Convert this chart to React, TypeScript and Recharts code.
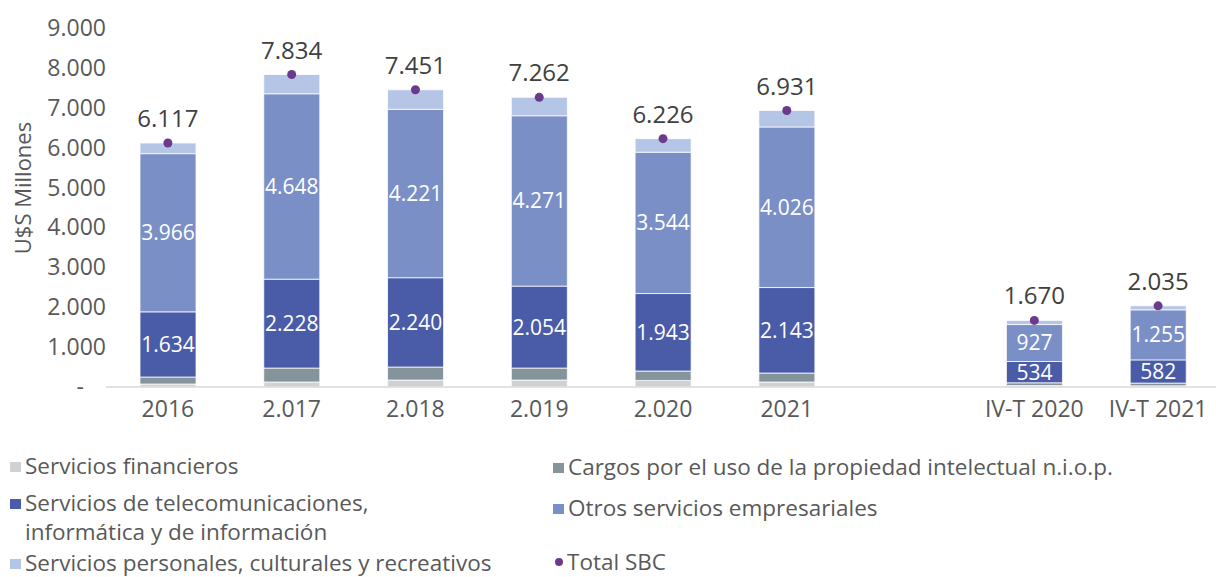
import React from "react";
import { Bar, ComposedChart, LabelList, Line, XAxis, YAxis } from "recharts";

const categories = ["2016", "2.017", "2.018", "2.019", "2.020", "2021", "", "IV-T 2020", "IV-T 2021"];
const financieros = [75, 125, 175, 175, 165, 125, null, 35, 30];
const cargos = [175, 350, 325, 300, 235, 225, null, 70, 68];
const telecom = [1634, 2228, 2240, 2054, 1943, 2143, null, 534, 582];
const otros = [3966, 4648, 4221, 4271, 3544, 4026, null, 927, 1255];
const personales = [267, 483, 490, 462, 339, 412, null, 104, 100];
const totalSBC = [6117, 7834, 7451, 7262, 6226, 6931, null, 1670, 2035];
const yTicks = [0, 1000, 2000, 3000, 4000, 5000, 6000, 7000, 8000, 9000];

const data = categories.map((cat, i) => ({
  cat,
  financieros: financieros[i],
  cargos: cargos[i],
  telecom: telecom[i],
  otros: otros[i],
  personales: personales[i],
  total: totalSBC[i],
}));

const FONT = "'Open Sans', sans-serif";
const GREY = "#595959";

const fmt = (v: any) => (v == null || v === "" ? "" : String(v).replace(/\B(?=(\d{3})+(?!\d))/g, "."));

const YTick = ({ x, y, payload }: any) => (
  <text
    x={payload.value === 0 ? x - 14 : x + 8}
    y={y}
    dy={8}
    textAnchor="end"
    fill={GREY}
    fontSize={23}
    fontFamily={FONT}
  >
    {payload.value === 0 ? "-" : fmt(payload.value)}
  </text>
);

const legendLeft = [
  { color: "#cfd2d5", label: ["Servicios financieros"], top: 451 },
  { color: "#4a5ca8", label: ["Servicios de telecomunicaciones,", "informática y de información"], top: 488 },
  { color: "#b5c5e6", label: ["Servicios personales, culturales y recreativos"], top: 548 },
];
const legendRight = [
  { color: "#85939b", label: ["Cargos por el uso de la propiedad intelectual n.i.o.p."], top: 452 },
  { color: "#7a8fc6", label: ["Otros servicios empresariales"], top: 493 },
];

const LegendItem = ({ color, label, top, left, dot }: any) => (
  <div style={{ position: "absolute", left, top, display: "flex", alignItems: "flex-start" }}>
    <div
      style={{
        width: dot ? 8 : 11,
        height: dot ? 8 : 10,
        borderRadius: dot ? "50%" : 0,
        background: color,
        marginTop: 11,
        marginRight: 4,
        marginLeft: dot ? 2 : 0,
      }}
    />
    <div style={{ fontSize: 22.5, lineHeight: "29px", color: GREY, fontFamily: FONT, whiteSpace: "nowrap" }}>
      {label.map((l: string) => (
        <div key={l}>{l}</div>
      ))}
    </div>
  </div>
);

export default function App() {
  return (
    <div style={{ position: "absolute", left: 0, top: 0, width: 1216, height: 577, overflow: "hidden", background: "#fff" }}>
      <ComposedChart
        width={1220}
        height={432}
        data={data}
        margin={{ top: 28, right: 0, bottom: 0, left: 0 }}
      >
        <XAxis
          dataKey="cat"
          axisLine={{ stroke: "#d9d9d9", strokeWidth: 1.5 }}
          tickLine={false}
          height={45}
          tick={{ fill: GREY, fontSize: 23, fontFamily: FONT }}
          tickMargin={8}
          interval={0}
        />
        <YAxis
          width={106}
          domain={[0, 9000]}
          ticks={yTicks}
          axisLine={false}
          tickLine={false}
          tick={<YTick />}
        />
        <Bar dataKey="financieros" stackId="a" barSize={56} fill="#cfd2d5" stroke="#fff" strokeWidth={0.75} isAnimationActive={false} />
        <Bar dataKey="cargos" stackId="a" barSize={56} fill="#85939b" stroke="#fff" strokeWidth={0.75} isAnimationActive={false} />
        <Bar dataKey="telecom" stackId="a" barSize={56} fill="#4a5ca8" stroke="#fff" strokeWidth={0.75} isAnimationActive={false}>
          <LabelList dataKey="telecom" position="center" fill="#fff" fontSize={21} fontFamily={FONT} formatter={fmt} />
        </Bar>
        <Bar dataKey="otros" stackId="a" barSize={56} fill="#7a8fc6" stroke="#fff" strokeWidth={0.75} isAnimationActive={false}>
          <LabelList dataKey="otros" position="center" fill="#fff" fontSize={21} fontFamily={FONT} formatter={fmt} />
        </Bar>
        <Bar dataKey="personales" stackId="a" barSize={56} fill="#b5c5e6" stroke="#fff" strokeWidth={0.75} isAnimationActive={false} />
        <Line
          dataKey="total"
          stroke="none"
          dot={{ r: 4.5, fill: "#6b3a8c", stroke: "none" }}
          activeDot={false}
          isAnimationActive={false}
        >
          <LabelList dataKey="total" position="top" offset={16} fill="#404040" fontSize={24} fontFamily={FONT} formatter={fmt} />
        </Line>
        <text
          x={22}
          y={188}
          transform="rotate(-90 22 188)"
          textAnchor="middle"
          dominantBaseline="central"
          fill={GREY}
          fontSize={22}
          fontFamily={FONT}
        >
          U$S Millones
        </text>
      </ComposedChart>
      {legendLeft.map((it) => (
        <LegendItem key={it.label[0]} {...it} left={10} />
      ))}
      {legendRight.map((it) => (
        <LegendItem key={it.label[0]} {...it} left={553} />
      ))}
      <LegendItem color="#6b3a8c" label={["Total SBC"]} top={547} left={553} dot />
    </div>
  );
}
